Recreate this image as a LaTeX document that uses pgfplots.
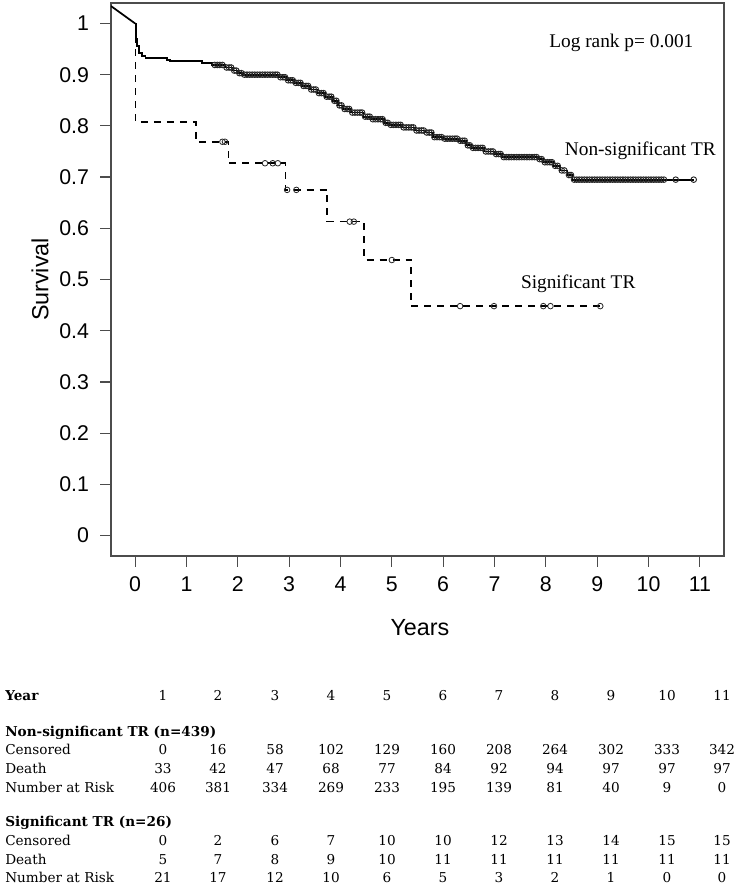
\documentclass[border=0pt]{standalone}
\usepackage{fontspec}
\usepackage{pgfplots}
\usepackage{pgfplotstable}
\pgfplotsset{compat=1.18}
\newfontfamily\arial{Liberation Sans}
\newfontfamily\tnr{Liberation Serif}
\newfontfamily\cam{DejaVu Serif}

% Kaplan-Meier steps, non-significant TR
\pgfplotstableread{
t S
0 1.0
0.01 0.970
0.03 0.956
0.08 0.943
0.13 0.937
0.2 0.933
0.62 0.929
0.68 0.926
1.3 0.923
1.5 0.919
1.75 0.914
1.9 0.908
2.0 0.903
2.1 0.900
2.8 0.895
2.95 0.889
3.1 0.884
3.25 0.878
3.4 0.871
3.55 0.864
3.7 0.857
3.85 0.849
3.95 0.840
4.05 0.833
4.2 0.826
4.45 0.818
4.6 0.813
4.85 0.806
4.95 0.802
5.2 0.797
5.45 0.791
5.65 0.787
5.8 0.778
6.0 0.775
6.3 0.771
6.45 0.762
6.55 0.757
6.8 0.750
7.0 0.745
7.15 0.739
7.85 0.735
7.95 0.729
8.15 0.722
8.28 0.713
8.42 0.704
8.52 0.695
10.88 0.695
}\nsstep

% censored, non-significant TR
\pgfplotstableread{
t S
1.55 0.919
1.60 0.919
1.65 0.919
1.70 0.919
1.78 0.914
1.83 0.914
1.87 0.914
1.93 0.908
1.97 0.908
2.03 0.903
2.07 0.903
2.13 0.900
2.18 0.900
2.23 0.900
2.28 0.900
2.33 0.900
2.38 0.900
2.43 0.900
2.48 0.900
2.53 0.900
2.58 0.900
2.63 0.900
2.68 0.900
2.73 0.900
2.77 0.900
2.83 0.895
2.88 0.895
2.92 0.895
2.98 0.889
3.03 0.889
3.07 0.889
3.13 0.884
3.18 0.884
3.22 0.884
3.28 0.878
3.33 0.878
3.37 0.878
3.43 0.871
3.48 0.871
3.52 0.871
3.58 0.864
3.63 0.864
3.67 0.864
3.73 0.857
3.78 0.857
3.82 0.857
3.88 0.849
3.92 0.849
3.98 0.840
4.02 0.840
4.08 0.833
4.13 0.833
4.17 0.833
4.23 0.826
4.28 0.826
4.33 0.826
4.38 0.826
4.42 0.826
4.48 0.818
4.53 0.818
4.57 0.818
4.63 0.813
4.68 0.813
4.73 0.813
4.78 0.813
4.82 0.813
4.88 0.806
4.92 0.806
4.98 0.802
5.03 0.802
5.08 0.802
5.13 0.802
5.17 0.802
5.23 0.797
5.28 0.797
5.33 0.797
5.38 0.797
5.42 0.797
5.48 0.791
5.53 0.791
5.58 0.791
5.62 0.791
5.68 0.787
5.73 0.787
5.77 0.787
5.83 0.778
5.88 0.778
5.93 0.778
5.97 0.778
6.03 0.775
6.08 0.775
6.13 0.775
6.18 0.775
6.23 0.775
6.27 0.775
6.33 0.771
6.38 0.771
6.42 0.771
6.48 0.762
6.52 0.762
6.58 0.757
6.63 0.757
6.68 0.757
6.73 0.757
6.77 0.757
6.83 0.750
6.88 0.750
6.93 0.750
6.97 0.750
7.03 0.745
7.08 0.745
7.12 0.745
7.18 0.739
7.23 0.739
7.28 0.739
7.33 0.739
7.38 0.739
7.43 0.739
7.48 0.739
7.53 0.739
7.58 0.739
7.63 0.739
7.68 0.739
7.73 0.739
7.78 0.739
7.82 0.739
7.88 0.735
7.92 0.735
7.98 0.729
8.03 0.729
8.08 0.729
8.12 0.729
8.18 0.722
8.23 0.722
8.31 0.713
8.36 0.713
8.45 0.704
8.49 0.704
8.55 0.695
8.60 0.695
8.65 0.695
8.70 0.695
8.75 0.695
8.80 0.695
8.85 0.695
8.90 0.695
8.95 0.695
9.00 0.695
9.05 0.695
9.10 0.695
9.15 0.695
9.20 0.695
9.25 0.695
9.30 0.695
9.35 0.695
9.40 0.695
9.45 0.695
9.50 0.695
9.55 0.695
9.60 0.695
9.65 0.695
9.70 0.695
9.75 0.695
9.80 0.695
9.85 0.695
9.90 0.695
9.95 0.695
10.00 0.695
10.05 0.695
10.10 0.695
10.15 0.695
10.20 0.695
10.25 0.695
10.30 0.695
10.53 0.695
10.88 0.695
}\nscens

% Kaplan-Meier steps, significant TR
\pgfplotstableread{
t S
0 1.0
0.005 0.808
1.18 0.769
1.82 0.727
2.93 0.675
3.74 0.613
4.46 0.538
5.38 0.448
9.06 0.448
}\sstep

% censored, significant TR
\pgfplotstableread{
t S
1.70 0.769
1.75 0.769
2.53 0.727
2.68 0.727
2.78 0.727
2.96 0.675
3.14 0.675
4.18 0.613
4.26 0.613
5.00 0.538
6.33 0.448
6.99 0.448
7.95 0.448
8.09 0.448
9.06 0.448
}\scens

\begin{document}
\begin{tikzpicture}
\useasboundingbox (-83.25pt,-248.25pt) rectangle (470.25pt,417pt);
\begin{axis}[
  scale only axis, width=459.75pt, height=414.75pt,
  xmin=-0.47, xmax=11.47, ymin=-0.04, ymax=1.04,
  xtick={0,1,2,3,4,5,6,7,8,9,10,11},
  ytick={0,0.1,0.2,0.3,0.4,0.5,0.6,0.7,0.8,0.9,1},
  tick pos=left, tick align=outside, major tick length=8pt,
  axis line style={black!70, line width=0.9pt},
  every tick/.style={black!70, line width=0.9pt},
  /pgf/number format/assume math mode=true,
  tick label style={font=\arial\fontsize{16}{16}\selectfont},
  xticklabel style={yshift=-4pt},
  yticklabel style={xshift=-5pt},
  xlabel={Years}, ylabel={Survival},
  every axis x label/.style={at={(axis description cs:0.504,-0.1429)}, anchor=base, font=\arial\fontsize{17.5}{17.5}\selectfont},
  every axis y label/.style={at={(axis description cs:-0.102,0.5)}, rotate=90, anchor=base, font=\arial\fontsize{17.5}{17.5}\selectfont},
]
\addplot[black, line width=1.3pt] coordinates {(-0.47,1.034) (0,1.0)};
\addplot[black, line width=1.3pt, const plot] table {\nsstep};
\addplot[only marks, mark=o, mark size=2.1pt, mark options={black!85, line width=0.7pt}] table {\nscens};
\addplot[black, line width=1.3pt, const plot, dash pattern=on 5.25pt off 4.5pt] table {\sstep};
\addplot[only marks, mark=o, mark size=2.1pt, mark options={black!85, line width=0.6pt, solid}] table {\scens};
\node[anchor=base, font=\tnr\fontsize{14.5}{14.5}\selectfont] at (axis cs:9.47,0.953) {Log rank p= 0.001};
\node[anchor=base, font=\tnr\fontsize{14.5}{14.5}\selectfont] at (axis cs:9.84,0.743) {Non-significant TR};
\node[anchor=base, font=\tnr\fontsize{14.5}{14.5}\selectfont] at (axis cs:8.63,0.483) {Significant TR};
\end{axis}
% table below the chart, placed in pixel units of the reference
\begin{scope}[x=0.75pt, y=-0.75pt, shift={(-83.25pt,417pt)}, font=\cam\fontsize{10.2}{12}\selectfont, every node/.style={inner sep=0pt}]
\def\cols{163,218,275,331,387,443,499,555,611,667,722}
\node[anchor=base west] at (5,700.7) {\bfseries Year};
\foreach \x [count=\i] in \cols {\node[anchor=base] at (\x,700.7) {\i};}
\node[anchor=base west] at (5,736) {\bfseries Non-significant TR (n=439)};
\node[anchor=base west] at (5,754) {Censored};
\node[anchor=base west] at (5,773) {Death};
\node[anchor=base west] at (5,792.7) {Number at Risk};
\foreach \x/\v in {163/0,218/16,275/58,331/102,387/129,443/160,499/208,555/264,611/302,667/333,722/342} {\node[anchor=base] at (\x,754) {\v};}
\foreach \x/\v in {163/33,218/42,275/47,331/68,387/77,443/84,499/92,555/94,611/97,667/97,722/97} {\node[anchor=base] at (\x,773) {\v};}
\foreach \x/\v in {163/406,218/381,275/334,331/269,387/233,443/195,499/139,555/81,611/40,667/9,722/0} {\node[anchor=base] at (\x,792.7) {\v};}
\node[anchor=base west] at (5,826.7) {\bfseries Significant TR (n=26)};
\node[anchor=base west] at (5,845) {Censored};
\node[anchor=base west] at (5,864) {Death};
\node[anchor=base west] at (5,882.7) {Number at Risk};
\foreach \x/\v in {163/0,218/2,275/6,331/7,387/10,443/10,499/12,555/13,611/14,667/15,722/15} {\node[anchor=base] at (\x,845) {\v};}
\foreach \x/\v in {163/5,218/7,275/8,331/9,387/10,443/11,499/11,555/11,611/11,667/11,722/11} {\node[anchor=base] at (\x,864) {\v};}
\foreach \x/\v in {163/21,218/17,275/12,331/10,387/6,443/5,499/3,555/2,611/1,667/0,722/0} {\node[anchor=base] at (\x,882.7) {\v};}
\end{scope}
\end{tikzpicture}
\end{document}
